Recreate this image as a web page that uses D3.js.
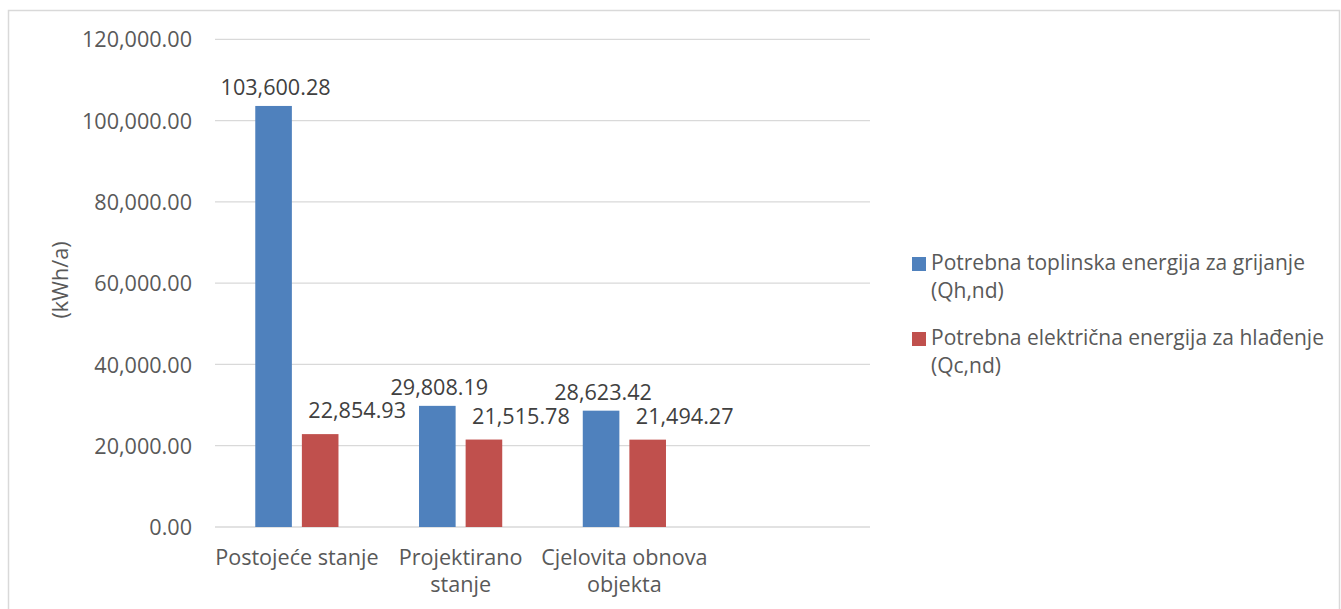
<!DOCTYPE html>
<html>
<head>
<meta charset="utf-8">
<script src="https://cdn.jsdelivr.net/npm/d3@7"></script>
<style>
  html, body { margin: 0; padding: 0; background: #fff; }
  svg { display: block; font-family: "Open Sans", "Noto Sans", sans-serif; }
</style>
</head>
<body>
<svg id="chart" width="1341" height="609"></svg>
<script>
const categories = ["Postojeće stanje", "Projektirano stanje", "Cjelovita obnova objekta", ""];
const seriesNames = [
  "Potrebna toplinska energija za grijanje (Qh,nd)",
  "Potrebna električna energija za hlađenje (Qc,nd)"
];
const heatingValues = [103600.28, 29808.19, 28623.42, null];
const coolingValues = [22854.93, 21515.78, 21494.27, null];
const yTicks = [0, 20000, 40000, 60000, 80000, 100000, 120000];
const yTitle = "(kWh/a)";
const colors = ["#4F81BD", "#C0504D"];

const svg = d3.select("#chart");
const plot = { left: 215, right: 870, top: 39.3, bottom: 527 };
const fontSize = 21.6;
const legendFontSize = 21;
const axisColor = "#595959";
const labelColor = "#404040";

// Border
svg.append("rect")
  .attr("x", 8.5).attr("y", 10.5)
  .attr("width", 1331).attr("height", 620)
  .attr("fill", "none").attr("stroke", "#d9d9d9").attr("stroke-width", 1.5);

const y = d3.scaleLinear().domain([0, 120000]).range([plot.bottom, plot.top]);
const x0 = d3.scaleBand().domain(categories.map((c, i) => i)).range([plot.left, plot.right]).padding(0);
const x1 = d3.scaleBand().domain([0, 1]).range([0, x0.bandwidth()]).paddingInner(0.2146).paddingOuter(0.864);

// Gridlines
const fmt = d3.format(",.2f");
svg.append("g").selectAll("line").data(yTicks).join("line")
  .attr("x1", plot.left).attr("x2", plot.right)
  .attr("y1", d => y(d)).attr("y2", d => y(d))
  .attr("stroke", "#d9d9d9").attr("stroke-width", 1.3);

// Y axis (labels only)
const yAxis = d3.axisLeft(y).tickValues(yTicks).tickFormat(fmt).tickSize(0).tickPadding(0);
const gy = svg.append("g").attr("transform", `translate(192,0)`).call(yAxis);
gy.select(".domain").remove();
gy.selectAll("text")
  .attr("fill", axisColor).attr("font-size", fontSize)
  .attr("font-family", '"Open Sans", sans-serif')
  .attr("dy", null).attr("y", 7.6);

// Y title
svg.append("text")
  .attr("transform", "translate(68,280) rotate(-90)")
  .attr("text-anchor", "middle")
  .attr("fill", axisColor).attr("font-size", fontSize)
  .text(yTitle);

// Bars
const seriesData = [heatingValues, coolingValues];
const labelDx = [2, 37];
const labelDy = [-11, -16];
seriesData.forEach((vals, s) => {
  const pts = vals.map((v, i) => ({ v, i })).filter(d => d.v != null);
  svg.append("g").selectAll("rect").data(pts).join("rect")
    .attr("x", d => x0(d.i) + x1(s))
    .attr("width", x1.bandwidth())
    .attr("y", d => y(d.v))
    .attr("height", d => y(0) - y(d.v))
    .attr("fill", colors[s]);
  svg.append("g").selectAll("text").data(pts).join("text")
    .attr("x", d => x0(d.i) + x1(s) + x1.bandwidth() / 2 + labelDx[s])
    .attr("y", d => y(d.v) + labelDy[s])
    .attr("text-anchor", "middle")
    .attr("fill", labelColor).attr("font-size", fontSize)
    .text(d => fmt(d.v));
});

// Category labels with wrapping
const maxW = 172;
const measure = svg.append("text").attr("font-size", fontSize).attr("visibility", "hidden");
function wrap(str) {
  const words = str.split(" ");
  const lines = [];
  let cur = "";
  words.forEach(w => {
    const test = cur ? cur + " " + w : w;
    measure.text(test);
    if (cur && measure.node().getComputedTextLength() > maxW) {
      lines.push(cur); cur = w;
    } else cur = test;
  });
  if (cur) lines.push(cur);
  return lines;
}
categories.forEach((c, i) => {
  if (!c) return;
  const lines = wrap(c);
  const t = svg.append("text")
    .attr("text-anchor", "middle")
    .attr("fill", axisColor).attr("font-size", fontSize);
  lines.forEach((ln, k) => {
    t.append("tspan")
      .attr("x", x0(i) + x0.bandwidth() / 2)
      .attr("y", 565 + k * 27)
      .text(ln);
  });
});
measure.remove();

// Legend
const legend = svg.append("g");
const legendSplit = [
  ["Potrebna toplinska energija za grijanje", "(Qh,nd)"],
  ["Potrebna električna energija za hlađenje", "(Qc,nd)"]
];
seriesNames.forEach((name, s) => {
  const baseY = 270 + s * 75;
  legend.append("rect")
    .attr("x", 912).attr("y", baseY - 13)
    .attr("width", 14).attr("height", 14)
    .attr("fill", colors[s]);
  const t = legend.append("text").attr("fill", axisColor).attr("font-size", legendFontSize);
  legendSplit[s].forEach((ln, k) => {
    t.append("tspan").attr("x", 931).attr("y", baseY + k * 28).text(ln);
  });
});
</script>
</body>
</html>
